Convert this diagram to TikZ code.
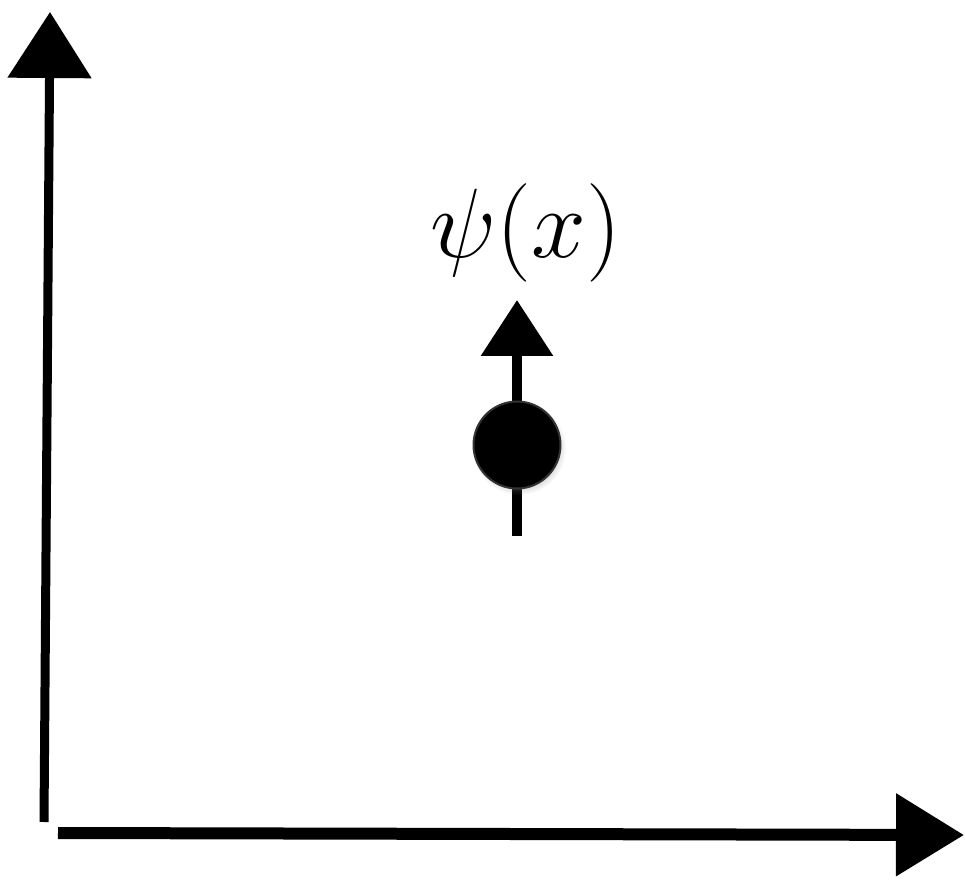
\documentclass[tikz,border=0pt]{standalone}
\usetikzlibrary{arrows.meta,shadows}
\begin{document}
\begin{tikzpicture}[x=0.5pt,y=-0.5pt,
  axisline/.style={line width=#1, draw=black, line cap=butt},
  dotstyle/.style={circle, fill=black, draw=black!80, line width=1pt, minimum size=43.5pt, inner sep=0pt,
     circular drop shadow={shadow xshift=1pt, shadow yshift=-1.5pt, shadow scale=1.08, opacity=0.25}},
  lbl/.style={font=\Huge, scale=1.98}]
\useasboundingbox (0,0) rectangle (965,882);
% axes
\coordinate (o1) at (44,822);
\coordinate (ytop) at (50,12);
\coordinate (o2) at (58,833);
\coordinate (xend) at (964,835);
\draw[axisline=4.5pt, -{Triangle[length=33pt,width=41pt]}] (o1) -- (ytop);
\draw[axisline=6pt, -{Triangle[length=34pt,width=40pt]}] (o2) -- (xend);
% particle
\coordinate (pbot) at (517,536);
\coordinate (ptop) at (517,300);
\draw[axisline=5pt, -{Triangle[length=28pt,width=35pt]}] (pbot) -- (ptop);
\node[dotstyle] (dot) at (517,445) {};
\node[lbl] (psi) at (526,233) {$\psi(x)$};
\end{tikzpicture}
\end{document}
